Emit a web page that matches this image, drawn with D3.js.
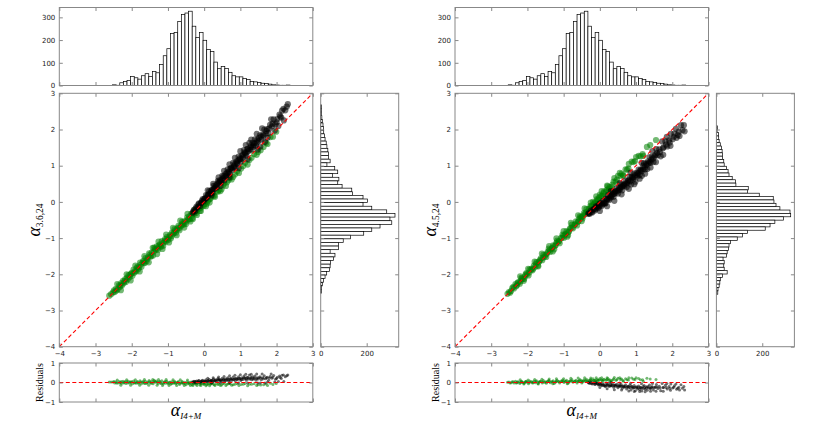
<!DOCTYPE html>
<html>
<head>
<meta charset="utf-8">
<script src="https://cdn.jsdelivr.net/npm/d3@7"></script>
<style>
  body { margin: 0; background: #fff; }
  .ax text { fill: #222; font-family: "DejaVu Sans", sans-serif; font-size: 7px; }
  .ax line { stroke: #888; }
  .lab { font-family: "Liberation Serif", serif; fill: #000; }
</style>
</head>
<body>
<svg id="chart" width="830" height="421"></svg>
<script>
// histogram of alpha_I4+M (same in both panels), bins of 0.1 starting at -2.53
var xHistStart = -2.53, xHistStep = 0.1;
var xHistCounts = [3, 1, 12, 18, 22, 40, 34, 28, 43, 52,
                   40, 61, 56, 93, 131, 162, 229, 233, 282, 313,
                   319, 327, 261, 211, 233, 199, 158, 150, 103, 74,
                   83, 75, 58, 43, 38, 38, 31, 27, 18, 16,
                   13, 10, 9, 6, 3, 2, 1, 1, 2];

// side histograms, listed from the top bin downwards
var leftHistTop = 2.68, leftHistStep = 0.1;
var leftHistCounts = [3, 4, 4, 5, 7, 10, 12, 13, 16, 19, 24, 27, 31, 34, 34, 41, 27,
                      61, 74, 52, 79, 74, 93, 135, 138, 184, 204, 184, 222,
                      287, 323, 301, 309, 258, 222, 187, 130, 98, 77,
                      77, 41, 62, 55, 43, 41, 38, 26, 19, 12, 7, 3, 3];
var rightHistTop = 2.10, rightHistStep = 0.093;
var rightHistCounts = [4, 3, 9, 10, 12, 17, 22, 25, 26, 26, 32, 34, 44, 51, 55, 69, 83, 85,
                       139, 136, 187, 248, 251, 260, 277, 321, 324, 292, 255, 234, 213,
                       136, 114, 91, 61, 55, 53, 47, 44, 29, 34, 32, 34, 47, 26, 17, 15, 12, 7, 6];

var axisTicks = [-4, -3, -2, -1, 0, 1, 2, 3];
var histTicks = [0, 100, 200, 300];
var sideTicks = [0, 200];
var residTicks = [-1, 0, 1];

// [alpha_I4+M, alpha_fit] pairs
var leftGreen = [[-2.62,-2.59],[-2.52,-2.50],[-2.47,-2.49],[-2.44,-2.40],[-2.39,-2.42],[-2.35,-2.30],
  [-2.31,-2.31],[-2.27,-2.31],[-2.24,-2.18],[-2.20,-2.19],[-2.16,-2.21],[-2.13,-2.09],[-2.09,-2.02],
  [-2.06,-2.08],[-2.02,-1.99],[-1.98,-2.04],[-1.95,-1.87],[-1.91,-1.91],[-1.88,-1.92],[-1.84,-1.79],
  [-1.80,-1.81],[-1.77,-1.68],[-1.73,-1.79],[-1.70,-1.67],[-1.66,-1.68],[-1.62,-1.55],[-1.59,-1.64],
  [-1.55,-1.53],[-1.52,-1.42],[-1.48,-1.51],[-1.45,-1.40],[-1.41,-1.48],[-1.38,-1.26],[-1.34,-1.33],
  [-1.31,-1.23],[-1.27,-1.32],[-1.24,-1.20],[-1.20,-1.22],[-1.17,-1.08],[-1.13,-1.21],[-1.10,-1.08],
  [-1.06,-1.10],[-1.03,-0.97],[-0.99,-1.05],[-0.96,-0.96],[-0.92,-1.01],[-0.89,-0.85],[-0.85,-0.88],
  [-0.82,-0.75],[-0.78,-0.85],[-0.75,-0.76],[-0.71,-0.66],[-0.68,-0.78],[-0.64,-0.67],[-0.61,-0.55],
  [-0.57,-0.63],[-0.54,-0.53],[-0.50,-0.61],[-0.47,-0.43],[-0.43,-0.47],[-0.40,-0.48],[-0.36,-0.33],
  [-0.33,-0.45],[-0.29,-0.31],[-0.26,-0.21],[-0.22,-0.31],[-0.19,-0.23],[-0.15,-0.13],[-0.12,-0.25],
  [-0.08,-0.14],[-0.05,-0.02],[-0.01,-0.11],[0.03,0.00],[0.07,-0.05],[0.12,0.06],[0.17,0.08],
  [0.22,0.20],[0.28,0.17],[0.34,0.29],[0.41,0.33],[0.48,0.35],[0.55,0.51],[0.63,0.54],[0.72,0.66],
  [0.80,0.69],[0.91,0.84],[1.02,0.92],[1.13,1.08],[1.25,1.16],[1.38,1.32],[1.49,1.38],[1.56,1.43],
  [1.71,1.63],[1.83,1.79],[1.99,1.94],
  [-2.57,-2.55],[-2.49,-2.44],[-2.42,-2.45],[-2.33,-2.35],[-2.29,-2.24],[-2.22,-2.25],[-2.18,-2.13],
  [-2.11,-2.14],[-2.04,-2.01],[-2.00,-1.96],[-1.93,-1.96],[-1.86,-1.83],[-1.82,-1.86],[-1.75,-1.73],
  [-1.68,-1.63],[-1.64,-1.69],[-1.57,-1.58],[-1.50,-1.46],[-1.46,-1.50],[-1.39,-1.37],[-1.36,-1.30],
  [-1.29,-1.28],[-1.22,-1.17],[-1.19,-1.24],[-1.12,-1.13],[-1.08,-1.03],[-1.01,-1.02],[-0.94,-0.91],
  [-0.90,-0.95],[-0.83,-0.85],[-0.80,-0.79],[-0.73,-0.72],[-0.69,-0.73],[-0.62,-0.63],[-0.59,-0.60],
  [-0.52,-0.56],[-0.45,-0.49],[-0.41,-0.40],[-0.34,-0.38],[-0.27,-0.33],[-0.24,-0.26],[-0.17,-0.20],
  [-0.10,-0.17],[-0.03,-0.08],[0.01,-0.06],[0.10,0.02],[0.19,0.12],[0.25,0.17],[0.38,0.28],
  [0.52,0.45],[0.67,0.60],[0.85,0.76],[1.08,0.99],[1.31,1.22],[1.64,1.52],
  [-2.40,-2.27],[-2.30,-2.44],[-2.14,-2.00],[-2.03,-2.17],[-1.90,-1.76],[-1.78,-1.92],[-1.65,-1.50],
  [-1.53,-1.67],[-1.42,-1.27],[-1.30,-1.44],[-1.26,-1.10],[-1.15,-1.30],[-1.05,-0.90],[-0.97,-1.12],
  [-0.86,-0.72],[-0.76,-0.92],[-0.66,-0.52],[-0.55,-0.71],[-0.46,-0.33],[-0.38,-0.54],[-0.31,-0.47],
  [-0.20,-0.36],[-0.09,-0.25],[0.05,-0.12],[0.15,-0.02],[0.30,0.14],[0.45,0.30],[0.60,0.44],
  [0.76,0.62],[0.96,0.80],[1.20,1.03],[1.45,1.30],[1.75,1.60],[1.90,1.80]];

var leftBlack = [[-0.32,-0.30],[-0.28,-0.22],[-0.25,-0.26],[-0.21,-0.13],[-0.18,-0.15],[-0.14,-0.04],
  [-0.11,-0.11],[-0.08,-0.02],[-0.04,0.08],[-0.01,0.02],[0.02,0.10],[0.05,0.19],[0.08,0.12],[0.11,0.21],
  [0.14,0.30],[0.17,0.23],[0.20,0.32],[0.23,0.25],[0.26,0.44],[0.29,0.38],[0.32,0.46],[0.35,0.40],
  [0.38,0.58],[0.41,0.52],[0.44,0.60],[0.47,0.54],[0.50,0.72],[0.53,0.66],[0.56,0.60],[0.59,0.77],
  [0.62,0.72],[0.65,0.90],[0.68,0.83],[0.71,0.77],[0.74,0.94],[0.77,0.89],[0.80,1.08],[0.83,1.00],
  [0.86,0.94],[0.89,1.11],[0.92,1.06],[0.95,1.25],[0.98,1.17],[1.01,1.11],[1.04,1.28],[1.07,1.23],
  [1.10,1.43],[1.13,1.34],[1.16,1.28],[1.19,1.46],[1.22,1.40],[1.25,1.63],[1.28,1.51],[1.31,1.45],
  [1.34,1.63],[1.37,1.57],[1.40,1.73],[1.43,1.55],[1.46,1.71],[1.50,1.68],[1.54,1.84],[1.55,1.53],
  [1.58,1.72],[1.62,1.86],[1.66,2.00],[1.70,1.89],[1.74,2.01],[1.75,1.77],[1.78,1.90],[1.82,2.13],
  [1.87,2.09],[1.92,2.28],[1.97,2.14],[2.02,2.29],[2.05,2.10],[2.08,2.41],[2.13,2.33],[2.19,2.57],
  [2.24,2.53],[2.28,2.63],[2.31,2.70],
  [-0.30,-0.26],[-0.23,-0.18],[-0.16,-0.07],[-0.09,-0.04],[-0.06,0.03],[0.00,0.07],[0.04,0.09],
  [0.09,0.17],[0.13,0.20],[0.19,0.28],[0.22,0.33],[0.27,0.35],[0.31,0.41],[0.36,0.49],[0.40,0.55],
  [0.45,0.57],[0.49,0.62],[0.54,0.71],[0.58,0.70],[0.63,0.81],[0.67,0.79],[0.72,0.91],[0.76,0.93],
  [0.81,0.96],[0.85,1.05],[0.90,1.07],[0.94,1.15],[0.99,1.20],[1.03,1.19],[1.08,1.31],[1.12,1.37],
  [1.17,1.36],[1.21,1.47],[1.26,1.44],[1.30,1.56],[1.35,1.52],[1.39,1.62],[1.45,1.64],[1.51,1.76],
  [1.57,1.80],[1.64,1.83],[1.72,1.96],[1.80,2.03],[1.89,2.16],[2.00,2.20],[2.10,2.36],
  [0.10,0.32],[0.25,0.50],[0.40,0.68],[0.55,0.86],[0.70,1.04],[0.85,1.22],[1.00,1.40],[1.15,1.57],
  [1.30,1.72],[1.45,1.88],[1.60,2.03],[1.85,2.28],[2.15,2.52],[0.20,0.18],[0.45,0.44],[0.70,0.68],
  [0.95,0.93],[1.20,1.18],[1.48,1.45],[1.68,1.66],[1.95,1.97],[2.20,2.25]];

var rightGreen = [[-2.55,-2.54],[-2.48,-2.51],[-2.42,-2.38],[-2.37,-2.39],[-2.33,-2.27],[-2.29,-2.30],
  [-2.25,-2.22],[-2.21,-2.26],[-2.17,-2.10],[-2.13,-2.13],[-2.09,-2.13],[-2.05,-2.00],[-2.01,-2.00],
  [-1.97,-2.03],[-1.94,-1.86],[-1.90,-1.88],[-1.86,-1.89],[-1.82,-1.76],[-1.78,-1.79],[-1.75,-1.66],
  [-1.71,-1.76],[-1.67,-1.64],[-1.63,-1.56],[-1.59,-1.61],[-1.56,-1.46],[-1.52,-1.51],[-1.48,-1.52],
  [-1.44,-1.38],[-1.41,-1.29],[-1.37,-1.38],[-1.33,-1.29],[-1.29,-1.20],[-1.26,-1.31],[-1.22,-1.20],
  [-1.18,-1.07],[-1.14,-1.09],[-1.11,-1.14],[-1.07,-0.99],[-1.03,-0.90],[-0.99,-0.99],[-0.96,-0.90],
  [-0.92,-0.81],[-0.88,-0.92],[-0.85,-0.82],[-0.81,-0.72],[-0.77,-0.63],[-0.74,-0.73],[-0.70,-0.63],
  [-0.66,-0.54],[-0.63,-0.65],[-0.59,-0.54],[-0.55,-0.40],[-0.52,-0.43],[-0.48,-0.46],[-0.44,-0.31],
  [-0.41,-0.34],[-0.37,-0.20],[-0.33,-0.29],[-0.30,-0.19],[-0.26,-0.11],[-0.22,-0.14],[-0.19,0.00],
  [-0.15,-0.03],[-0.11,-0.06],[-0.08,0.08],[-0.04,0.06],[0.00,0.20],[0.04,0.17],[0.08,0.15],[0.12,0.29],
  [0.17,0.28],[0.22,0.43],[0.27,0.41],[0.32,0.41],[0.38,0.56],[0.44,0.56],[0.50,0.72],[0.57,0.72],
  [0.64,0.74],[0.71,0.90],[0.79,0.92],[0.88,1.11],[0.97,1.13],[1.07,1.27],[1.18,1.32],[1.30,1.52],
  [1.39,1.57],[1.55,1.71],
  [-2.51,-2.49],[-2.45,-2.46],[-2.39,-2.35],[-2.31,-2.33],[-2.27,-2.23],[-2.19,-2.19],[-2.15,-2.11],
  [-2.07,-2.06],[-2.03,-1.97],[-1.95,-1.95],[-1.88,-1.84],[-1.84,-1.85],[-1.76,-1.71],[-1.69,-1.67],
  [-1.65,-1.60],[-1.57,-1.54],[-1.50,-1.46],[-1.46,-1.43],[-1.39,-1.33],[-1.31,-1.27],[-1.24,-1.21],
  [-1.20,-1.13],[-1.13,-1.09],[-1.05,-1.00],[-1.01,-0.94],[-0.94,-0.88],[-0.87,-0.83],[-0.83,-0.75],
  [-0.76,-0.70],[-0.68,-0.62],[-0.61,-0.55],[-0.57,-0.47],[-0.50,-0.42],[-0.46,-0.38],[-0.39,-0.29],
  [-0.35,-0.27],[-0.28,-0.19],[-0.24,-0.12],[-0.17,-0.07],[-0.13,-0.01],[-0.06,0.05],[-0.02,0.12],
  [0.06,0.17],[0.10,0.24],[0.19,0.33],[0.25,0.36],[0.35,0.48],[0.47,0.61],[0.60,0.78],[0.75,0.89],
  [0.93,1.10],[1.12,1.26],
  [-2.20,-2.06],[-1.98,-1.85],[-1.80,-1.65],[-1.60,-1.43],[-1.40,-1.22],[-1.20,-1.01],[-1.00,-0.81],
  [-0.80,-0.58],[-0.60,-0.37],[-0.42,-0.18],[-0.25,-0.02],[-0.10,0.15],[0.05,0.30],[0.20,0.45],
  [0.40,0.66],[0.55,0.80],[0.80,1.05],[1.00,1.24],[-2.10,-2.18],[-1.70,-1.78],[-1.30,-1.37],
  [-0.90,-0.96],[-0.50,-0.53],[-0.10,-0.09],[0.30,0.34],[0.65,0.72],[1.20,1.27]];

var rightBlack = [[-0.32,-0.33],[-0.28,-0.33],[-0.25,-0.24],[-0.21,-0.29],[-0.18,-0.21],[-0.14,-0.24],
  [-0.11,-0.12],[-0.08,-0.15],[-0.04,-0.17],[-0.01,-0.05],[0.02,-0.08],[0.05,-0.11],[0.08,0.02],
  [0.11,-0.01],[0.14,-0.05],[0.17,0.09],[0.20,0.06],[0.23,0.19],[0.26,0.05],[0.29,0.18],[0.32,0.15],
  [0.35,0.28],[0.38,0.14],[0.41,0.28],[0.44,0.25],[0.47,0.38],[0.50,0.23],[0.53,0.38],[0.56,0.35],
  [0.59,0.49],[0.62,0.32],[0.65,0.47],[0.68,0.44],[0.71,0.59],[0.74,0.41],[0.77,0.57],[0.80,0.53],
  [0.83,0.69],[0.86,0.48],[0.89,0.66],[0.92,0.62],[0.95,0.79],[0.98,0.56],[1.01,0.75],[1.04,0.71],
  [1.07,0.89],[1.10,0.74],[1.13,0.89],[1.16,0.72],[1.19,0.90],[1.22,1.07],[1.25,0.90],[1.28,1.06],
  [1.31,0.91],[1.34,1.07],[1.37,1.24],[1.40,1.08],[1.44,1.24],[1.48,1.10],[1.52,1.26],[1.56,1.46],
  [1.60,1.29],[1.64,1.45],[1.68,1.26],[1.72,1.67],[1.76,1.51],[1.81,1.67],[1.86,1.53],[1.91,1.70],
  [1.96,1.88],[2.01,1.73],[2.06,1.89],[2.12,1.77],[2.18,1.94],[2.24,2.12],[2.28,1.98],[2.32,2.12],
  [2.34,1.95],
  [-0.30,-0.31],[-0.23,-0.28],[-0.16,-0.19],[-0.12,-0.20],[-0.06,-0.11],[-0.02,-0.13],[0.03,-0.03],
  [0.07,-0.07],[0.12,-0.03],[0.16,-0.03],[0.21,0.09],[0.25,0.09],[0.30,0.13],[0.34,0.20],[0.39,0.22],
  [0.43,0.30],[0.48,0.30],[0.52,0.33],[0.57,0.40],[0.61,0.42],[0.66,0.46],[0.70,0.50],[0.75,0.52],
  [0.79,0.60],[0.84,0.58],[0.88,0.69],[0.93,0.68],[0.97,0.73],[1.02,0.80],[1.06,0.79],[1.11,0.86],
  [1.15,0.85],[1.20,1.00],[1.24,0.96],[1.29,1.02],[1.33,1.12],[1.38,1.10],[1.42,1.17],[1.47,1.20],
  [1.53,1.30],[1.58,1.35],[1.66,1.38],[1.74,1.48],[1.83,1.58],[1.93,1.64],[2.04,1.80],[2.15,1.85],
  [0.00,-0.25],[0.20,-0.12],[0.40,0.03],[0.60,0.21],[0.80,0.36],[0.95,0.49],[1.10,0.64],[1.25,0.78],
  [1.40,0.95],[1.55,1.10],[1.75,1.30],[1.95,1.55],[2.20,1.82],[0.30,0.30],[0.55,0.52],[0.85,0.81],
  [1.15,1.08],[1.45,1.40],[1.85,1.80],[2.10,2.02]];

var svg = d3.select("#chart");
var W = 253.5, mainTop = 93.3, H = 253.4;
var histTop = 7.5, histH = 78, sideW = 78, gap = 7.9;
var resTop = 363, resH = 39;
var intFmt = d3.format("d");

function addAxis(x, y, axis, showLabels, values) {
    axis.tickValues(values).tickSize(-3.5).tickPadding(4)
        .tickFormat(showLabels ? intFmt : "");
    var g = svg.append("g")
        .attr("class", "ax")
        .attr("transform", "translate(" + x + "," + y + ")")
        .call(axis);
    g.select(".domain").remove();
    return g;
}

function frame(x, y, w, h) {
    svg.append("rect")
        .attr("x", x).attr("y", y)
        .attr("width", w).attr("height", h)
        .attr("fill", "none")
        .attr("stroke", "#888")
        .attr("stroke-width", 1);
}

function drawPanel(p) {
    var left = p.left;
    var x = d3.scaleLinear().domain([-4, 3]).range([left, left + W]);
    var y = d3.scaleLinear().domain([-4, 3]).range([mainTop + H, mainTop]);

    // top histogram
    var yH = d3.scaleLinear()
        .domain([0, d3.max(xHistCounts) * 1.05])
        .range([histTop + histH, histTop]);
    svg.append("g").selectAll("rect")
        .data(xHistCounts)
        .enter().append("rect")
        .attr("x", function(d, i) { return x(xHistStart + i * xHistStep); })
        .attr("width", function(d, i) { return x(xHistStart + (i + 1) * xHistStep) - x(xHistStart + i * xHistStep); })
        .attr("y", function(d) { return yH(d); })
        .attr("height", function(d) { return yH(0) - yH(d); })
        .attr("fill", "#fff")
        .attr("stroke", "#000")
        .attr("stroke-width", 0.7);
    addAxis(left, 0, d3.axisLeft(yH), true, histTicks);
    addAxis(left + W, 0, d3.axisRight(yH), false, histTicks);
    addAxis(0, histTop + histH, d3.axisBottom(x), false, axisTicks);
    addAxis(0, histTop, d3.axisTop(x), false, axisTicks);
    frame(left, histTop, W, histH);

    // main scatter
    var pts = svg.append("g");
    [[p.green, "#008000"], [p.black, "#000"]].forEach(function(s) {
        pts.append("g").selectAll("circle")
            .data(s[0])
            .enter().append("circle")
            .attr("cx", function(d) { return x(d[0]); })
            .attr("cy", function(d) { return y(d[1]); })
            .attr("r", 3.1)
            .attr("fill", s[1])
            .attr("fill-opacity", 0.55);
    });
    svg.append("line")
        .attr("x1", x(-4)).attr("y1", y(-4))
        .attr("x2", x(3)).attr("y2", y(3))
        .attr("stroke", "red")
        .attr("stroke-width", 1.1)
        .attr("stroke-dasharray", "4,2.5");
    addAxis(left, 0, d3.axisLeft(y), true, axisTicks);
    addAxis(0, mainTop + H, d3.axisBottom(x), true, axisTicks);
    addAxis(left + W, 0, d3.axisRight(y), false, axisTicks);
    addAxis(0, mainTop, d3.axisTop(x), false, axisTicks);
    frame(left, mainTop, W, H);

    // side histogram
    var sx = left + W + gap;
    var xS = d3.scaleLinear()
        .domain([0, d3.max(p.side) * 1.05])
        .range([sx, sx + sideW]);
    svg.append("g").selectAll("rect")
        .data(p.side)
        .enter().append("rect")
        .attr("x", sx)
        .attr("y", function(d, i) { return y(p.sideTop - i * p.sideStep); })
        .attr("height", function(d, i) { return y(p.sideTop - (i + 1) * p.sideStep) - y(p.sideTop - i * p.sideStep); })
        .attr("width", function(d) { return xS(d) - sx; })
        .attr("fill", "#fff")
        .attr("stroke", "#000")
        .attr("stroke-width", 0.7);
    addAxis(0, mainTop + H, d3.axisBottom(xS), true, sideTicks);
    addAxis(0, mainTop, d3.axisTop(xS), false, sideTicks);
    addAxis(sx, 0, d3.axisLeft(y), false, axisTicks);
    addAxis(sx + sideW, 0, d3.axisRight(y), false, axisTicks);
    frame(sx, mainTop, sideW, H);

    // residuals
    var yR = d3.scaleLinear().domain([-1, 1]).range([resTop + resH, resTop]);
    [[p.green, "#008000"], [p.black, "#000"]].forEach(function(s) {
        svg.append("g").selectAll("circle")
            .data(s[0])
            .enter().append("circle")
            .attr("cx", function(d) { return x(d[0]); })
            .attr("cy", function(d) { return yR(d[1] - d[0]); })
            .attr("r", 1.5)
            .attr("fill", s[1])
            .attr("fill-opacity", 0.55);
    });
    svg.append("line")
        .attr("x1", x(-4)).attr("y1", yR(0))
        .attr("x2", x(3)).attr("y2", yR(0))
        .attr("stroke", "red")
        .attr("stroke-width", 1.1)
        .attr("stroke-dasharray", "4,2.5");
    addAxis(left, 0, d3.axisLeft(yR), true, residTicks);
    addAxis(left + W, 0, d3.axisRight(yR), false, residTicks);
    addAxis(0, resTop + resH, d3.axisBottom(x), false, axisTicks);
    addAxis(0, resTop, d3.axisTop(x), false, axisTicks);
    frame(left, resTop, W, resH);

    // labels
    var yl = svg.append("text")
        .attr("class", "lab")
        .attr("transform", "translate(" + (left - 19.5) + "," + (mainTop + H / 2) + ") rotate(-90)")
        .attr("text-anchor", "middle");
    yl.append("tspan").attr("font-size", 18).attr("font-style", "italic").text("α");
    yl.append("tspan").attr("font-size", 9.5).attr("dy", 3.5).text(p.sub);

    svg.append("text")
        .attr("class", "lab")
        .attr("transform", "translate(" + (left - 16) + "," + (resTop + resH / 2) + ") rotate(-90)")
        .attr("text-anchor", "middle")
        .attr("font-size", 10)
        .text("Residuals");

    var xl = svg.append("text")
        .attr("class", "lab")
        .attr("x", left + W / 2)
        .attr("y", 416)
        .attr("text-anchor", "middle");
    xl.append("tspan").attr("font-size", 18).attr("font-style", "italic").text("α");
    xl.append("tspan").attr("font-size", 9).attr("font-style", "italic").attr("dy", 3).text("I4+M");
}

drawPanel({left: 59.3, green: leftGreen, black: leftBlack, sub: "3.6,24",
           side: leftHistCounts, sideTop: leftHistTop, sideStep: leftHistStep});
drawPanel({left: 455, green: rightGreen, black: rightBlack, sub: "4.5,24",
           side: rightHistCounts, sideTop: rightHistTop, sideStep: rightHistStep});
</script>
</body>
</html>
